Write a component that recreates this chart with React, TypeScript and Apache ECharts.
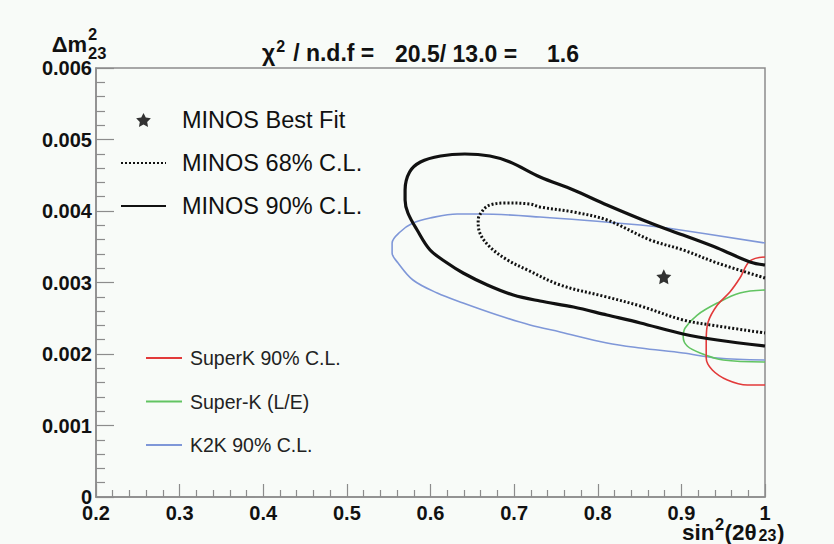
import React, { useEffect, useRef } from "react";
import * as echarts from "echarts";

const FONT = "'Liberation Sans', Arial, Helvetica, sans-serif";

const xTickLabels = ["0.2", "0.3", "0.4", "0.5", "0.6", "0.7", "0.8", "0.9", "1"];
const yTickLabels = ["0", "0.001", "0.002", "0.003", "0.004", "0.005", "0.006"];

const bestFit: number[][] = [[0.879, 0.00308]];

const minos90: number[][] = [
  [1.0, 0.003245], [0.982, 0.003287], [0.943, 0.003483], [0.902, 0.003664],
  [0.863, 0.003832], [0.811, 0.004084], [0.771, 0.004294], [0.731, 0.004476],
  [0.695, 0.004685], [0.671, 0.004769], [0.641, 0.004797], [0.612, 0.004769],
  [0.588, 0.004685], [0.575, 0.004545], [0.5696, 0.004294], [0.5696, 0.004154],
  [0.573, 0.003972], [0.584, 0.003734], [0.5995, 0.003455], [0.62, 0.003273],
  [0.639, 0.003133], [0.668, 0.002965], [0.699, 0.002825], [0.731, 0.002741],
  [0.771, 0.002657], [0.811, 0.002545], [0.851, 0.002434], [0.902, 0.00228],
  [0.943, 0.002196], [1.0, 0.002112],
];

const minos68: number[][] = [
  [1.0, 0.003063], [0.943, 0.003273], [0.902, 0.003455], [0.863, 0.003594],
  [0.811, 0.003874], [0.771, 0.003986], [0.731, 0.004056], [0.719, 0.004098],
  [0.689, 0.004112], [0.671, 0.004084], [0.663, 0.004014], [0.657, 0.003874],
  [0.659, 0.003692], [0.671, 0.003497], [0.692, 0.003315], [0.716, 0.003175],
  [0.755, 0.002965], [0.811, 0.002797], [0.851, 0.002671], [0.902, 0.002476],
  [0.943, 0.002392], [1.0, 0.002294],
];

const k2k90: number[][] = [
  [1.0, 0.003552], [0.883, 0.003762], [0.851, 0.003804], [0.731, 0.003916],
  [0.659, 0.003958], [0.632, 0.003958], [0.5995, 0.003902], [0.579, 0.003832],
  [0.5636, 0.003706], [0.5541, 0.003552], [0.5541, 0.003413], [0.5612, 0.003273],
  [0.579, 0.003035], [0.608, 0.002853], [0.639, 0.002713], [0.68, 0.002545],
  [0.719, 0.002406], [0.755, 0.002308], [0.811, 0.002154], [0.851, 0.002084],
  [0.902, 0.002014], [0.943, 0.001944], [1.0, 0.001916],
];

const superK90: number[][] = [
  [1.0, 0.003357], [0.982, 0.003301], [0.970, 0.003063], [0.958, 0.002867],
  [0.943, 0.002685], [0.932, 0.002448], [0.9297, 0.002196], [0.9297, 0.001944],
  [0.937, 0.001776], [0.955, 0.001636], [0.979, 0.001566], [1.0, 0.001566],
];

const superKLE: number[][] = [
  [1.0, 0.002895], [0.970, 0.002853], [0.943, 0.002713], [0.919, 0.002545],
  [0.9045, 0.002364], [0.9022, 0.002238], [0.907, 0.002112], [0.9225, 0.002014],
  [0.95, 0.001916], [1.0, 0.001888],
];

const STAR =
  "path://M50,0 L64.7,29.8 L97.6,34.5 L73.8,57.7 L79.4,90.5 L50,75 L20.6,90.5 L26.2,57.7 L2.4,34.5 L35.3,29.8 Z";

export default function App() {
  const ref = useRef<HTMLDivElement>(null);

  useEffect(() => {
    if (!ref.current) return;
    const chart = echarts.init(ref.current, undefined, { renderer: "svg" });
    const axisGrey = "#8c8c8c";
    const labelStyle = {
      fontSize: 20,
      fontWeight: "bold" as const,
      color: "#111",
      fontFamily: FONT,
    };
    const hidden = { opacity: 0 };
    const boldText = (size: number) => `bold ${size}px ${FONT}`;
    chart.setOption({
      animation: false,
      backgroundColor: "#f8fbf8",
      grid: {
        left: 96,
        top: 68,
        right: 69,
        bottom: 47,
        show: true,
        borderColor: axisGrey,
        borderWidth: 1.5,
      },
      xAxis: {
        type: "value",
        min: 0.2,
        max: 1,
        interval: 0.1,
        axisLine: { show: true, lineStyle: { color: axisGrey, width: 1.5 } },
        axisTick: { show: true, inside: true, length: 13, lineStyle: { color: axisGrey, width: 1.2 } },
        minorTick: { show: true, splitNumber: 5, length: 7, lineStyle: { color: axisGrey, width: 1.2 } },
        splitLine: { show: false },
        axisLabel: {
          ...labelStyle,
          margin: 6,
          formatter: (v: number) => xTickLabels[Math.round((v - 0.2) / 0.1)] ?? "",
        },
      },
      yAxis: {
        type: "value",
        min: 0,
        max: 0.006,
        interval: 0.001,
        axisLine: { show: true, lineStyle: { color: axisGrey, width: 1.5 } },
        axisTick: { show: true, inside: true, length: 18, lineStyle: { color: axisGrey, width: 1.2 } },
        minorTick: { show: true, splitNumber: 5, length: 9, lineStyle: { color: axisGrey, width: 1.2 } },
        splitLine: { show: false },
        axisLabel: {
          ...labelStyle,
          margin: 4,
          formatter: (v: number) => yTickLabels[Math.round(v / 0.001)] ?? "",
        },
      },
      legend: [
        {
          orient: "vertical",
          left: 120,
          top: 108,
          padding: 0,
          itemWidth: 45,
          itemHeight: 14,
          itemGap: 19,
          selectedMode: false,
          textStyle: { fontSize: 23.5, lineHeight: 23, color: "#111", fontFamily: FONT, padding: [0, 0, 0, 11] },
          data: [
            { name: "MINOS Best Fit" },
            { name: "MINOS 68% C.L.", itemStyle: hidden },
            { name: "MINOS 90% C.L.", itemStyle: hidden },
          ],
        },
        {
          orient: "vertical",
          left: 145,
          top: 348,
          padding: 0,
          itemWidth: 36,
          itemHeight: 12,
          itemGap: 23.5,
          selectedMode: false,
          textStyle: { fontSize: 19.5, lineHeight: 20, color: "#222", fontFamily: FONT, padding: [0, 0, 0, 3] },
          data: [
            { name: "SuperK 90% C.L.", itemStyle: hidden },
            { name: "Super-K (L/E)", itemStyle: hidden },
            { name: "K2K 90% C.L.", itemStyle: hidden },
          ],
        },
      ],
      series: [
        {
          name: "K2K 90% C.L.",
          type: "line",
          data: k2k90,
          smooth: 0.35,
          symbol: "none",
          lineStyle: { color: "#7f97d8", width: 1.6 },
          itemStyle: { color: "#7f97d8" },
        },
        {
          name: "Super-K (L/E)",
          type: "line",
          data: superKLE,
          smooth: 0.35,
          symbol: "none",
          lineStyle: { color: "#62c462", width: 1.6 },
          itemStyle: { color: "#62c462" },
        },
        {
          name: "SuperK 90% C.L.",
          type: "line",
          data: superK90,
          smooth: 0.35,
          symbol: "none",
          lineStyle: { color: "#e23a3a", width: 1.6 },
          itemStyle: { color: "#e23a3a" },
        },
        {
          name: "MINOS 68% C.L.",
          type: "line",
          data: minos68,
          smooth: 0.35,
          symbol: "none",
          lineStyle: { color: "#111", width: 3, type: [2, 2] },
          itemStyle: { color: "#111" },
        },
        {
          name: "MINOS 90% C.L.",
          type: "line",
          data: minos90,
          smooth: 0.35,
          symbol: "none",
          lineStyle: { color: "#111", width: 3.2 },
          itemStyle: { color: "#111" },
        },
        {
          name: "MINOS Best Fit",
          type: "scatter",
          data: bestFit,
          symbol: STAR,
          symbolSize: 15,
          itemStyle: { color: "#000" },
        },
      ],
      graphic: [
        {
          type: "text",
          x: 262,
          y: 53,
          style: {
            text: "{a|χ}{s|2}{b|/ n.d.f =}",
            verticalAlign: "middle",
            rich: {
              a: { fontSize: 23, fontWeight: "bold", fontFamily: FONT, fill: "#111", lineHeight: 30, verticalAlign: "middle" },
              s: { fontSize: 16, fontWeight: "bold", fontFamily: FONT, fill: "#111", lineHeight: 16, verticalAlign: "top", padding: [0, 0, 0, 1] },
              b: { fontSize: 23, fontWeight: "bold", fontFamily: FONT, fill: "#111", lineHeight: 30, verticalAlign: "middle", padding: [0, 0, 0, 8] },
            },
          },
        },
        {
          type: "text",
          x: 395,
          y: 54,
          style: { text: "20.5/ 13.0 =", verticalAlign: "middle", font: boldText(23), fill: "#111" },
        },
        {
          type: "text",
          x: 547,
          y: 54,
          style: { text: "1.6", verticalAlign: "middle", font: boldText(23), fill: "#111" },
        },
        {
          type: "text",
          x: 87,
          y: 44,
          style: { text: "Δm", align: "right", verticalAlign: "middle", font: boldText(22), fill: "#111" },
        },
        {
          type: "text",
          x: 88,
          y: 34,
          style: { text: "2", verticalAlign: "middle", font: boldText(16.5), fill: "#111" },
        },
        {
          type: "text",
          x: 88,
          y: 53,
          style: { text: "23", verticalAlign: "middle", font: boldText(16.5), fill: "#111" },
        },
        {
          type: "text",
          x: 682,
          y: 532.5,
          style: { text: "sin", verticalAlign: "middle", font: boldText(22.5), fill: "#111" },
        },
        {
          type: "text",
          x: 715,
          y: 524,
          style: { text: "2", verticalAlign: "middle", font: boldText(16.5), fill: "#111" },
        },
        {
          type: "text",
          x: 724.5,
          y: 532.5,
          style: { text: "(2θ", verticalAlign: "middle", font: boldText(22.5), fill: "#111" },
        },
        {
          type: "text",
          x: 758.5,
          y: 535.5,
          style: { text: "23", verticalAlign: "middle", font: boldText(16), fill: "#111" },
        },
        {
          type: "text",
          x: 777,
          y: 532.5,
          style: { text: ")", verticalAlign: "middle", font: boldText(22.5), fill: "#111" },
        },
      ],
    });
    return () => chart.dispose();
  }, []);

  return (
    <div
      ref={ref}
      style={{ position: "absolute", left: 0, top: 0, width: 834, height: 544 }}
    />
  );
}
